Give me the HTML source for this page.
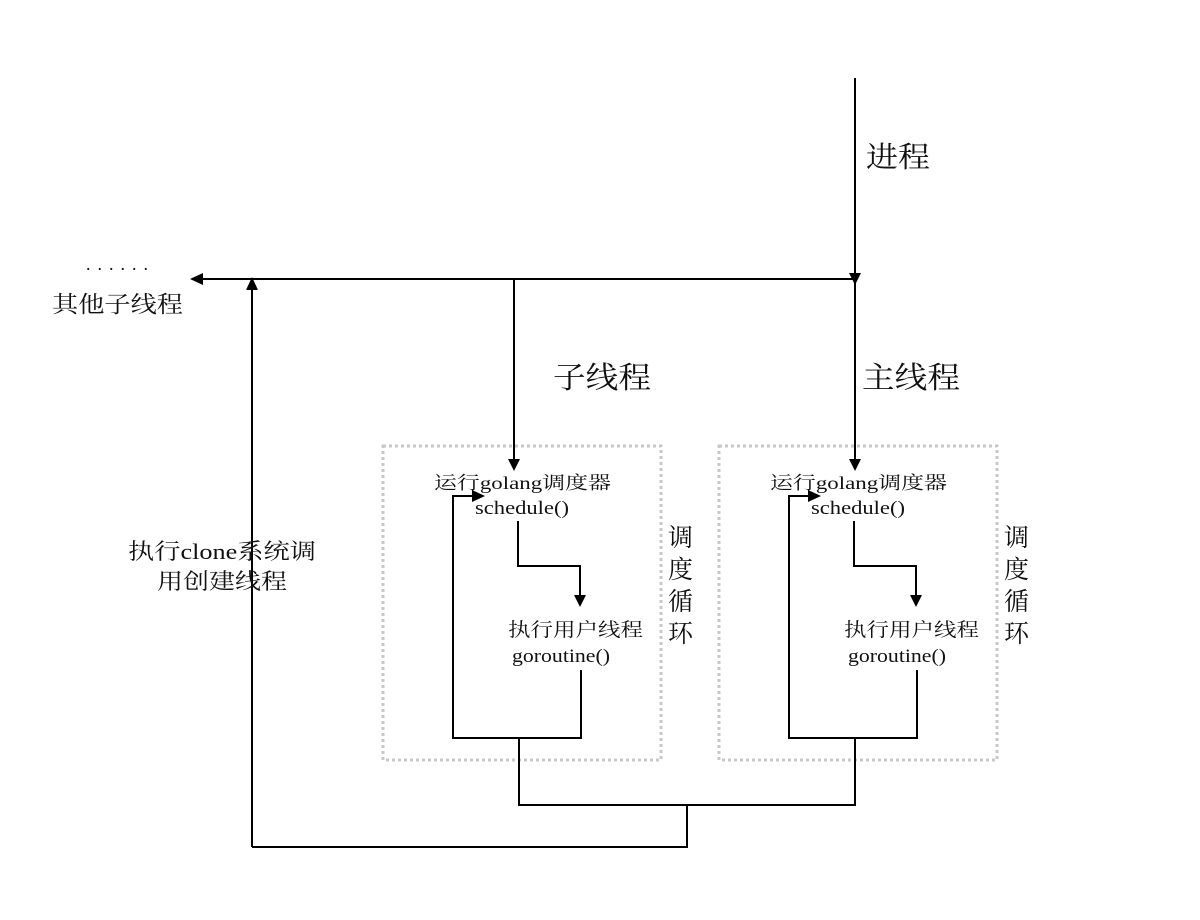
<!DOCTYPE html>
<html><head><meta charset="utf-8"><style>
html,body{margin:0;padding:0;background:#fff;}
svg text{font-family:"Liberation Serif","Noto Serif CJK SC",serif;fill:#111;}
</style></head><body>
<svg width="1200" height="915" viewBox="0 0 1200 915" xmlns="http://www.w3.org/2000/svg">
<defs>
<g id="box">
  <rect x="383" y="446" width="278" height="314" fill="none" stroke="#c8c8c8" stroke-width="3" stroke-dasharray="3 3"/>
  <polyline points="519,738 453,738 453,496 475,496" fill="none" stroke="#000" stroke-width="2"/>
  <polygon points="485,496 472,490 472,502" fill="#000"/>
  <polyline points="519,738 581,738 581,670" fill="none" stroke="#000" stroke-width="2"/>
  <polyline points="518,521 518,566 580,566 580,598" fill="none" stroke="#000" stroke-width="2"/>
  <polygon points="580,607 574,595 586,595" fill="#000"/>
  <text x="434" y="489" font-size="18" textLength="177" lengthAdjust="spacingAndGlyphs">运行golang调度器</text>
  <text x="475" y="514" font-size="19" textLength="94" lengthAdjust="spacingAndGlyphs">schedule()</text>
  <text x="508" y="636" font-size="19" textLength="135" lengthAdjust="spacingAndGlyphs">执行用户线程</text>
  <text x="512" y="662" font-size="19" textLength="98" lengthAdjust="spacingAndGlyphs">goroutine()</text>
  <text x="668" y="546" font-size="25">调</text>
  <text x="668" y="578" font-size="25">度</text>
  <text x="668" y="610" font-size="25">循</text>
  <text x="668" y="642" font-size="25">环</text>
</g>
</defs>
<use href="#box"/>
<use href="#box" transform="translate(336,0)"/>
<g stroke="#000" stroke-width="2" fill="none">
  <line x1="855" y1="78" x2="855" y2="462"/>
  <line x1="200" y1="279" x2="855" y2="279"/>
  <line x1="514" y1="279" x2="514" y2="462"/>
  <line x1="252" y1="290" x2="252" y2="847"/>
  <polyline points="252,847 687,847 687,805"/>
  <polyline points="519,738 519,805 855,805 855,738"/>
</g>
<polygon points="190,279 203,273 203,285" fill="#000"/>
<polygon points="252,277 246,290 258,290" fill="#000"/>
<polygon points="855,285 849,273 861,273" fill="#000"/>
<polygon points="514,471 508,459 520,459" fill="#000"/>
<polygon points="855,471 849,459 861,459" fill="#000"/>
<text x="866" y="167" font-size="29" textLength="64" lengthAdjust="spacingAndGlyphs">进程</text>
<text x="553" y="388" font-size="30" textLength="98" lengthAdjust="spacingAndGlyphs">子线程</text>
<text x="862" y="388" font-size="30" textLength="98" lengthAdjust="spacingAndGlyphs">主线程</text>
<text x="86" y="270" font-size="18" textLength="62" lengthAdjust="spacing">......</text>
<text x="52" y="312" font-size="23" textLength="131" lengthAdjust="spacingAndGlyphs">其他子线程</text>
<text x="128" y="559" font-size="22" textLength="188" lengthAdjust="spacingAndGlyphs">执行clone系统调</text>
<text x="157" y="589" font-size="22" textLength="130" lengthAdjust="spacingAndGlyphs">用创建线程</text>
</svg>
</body></html>
